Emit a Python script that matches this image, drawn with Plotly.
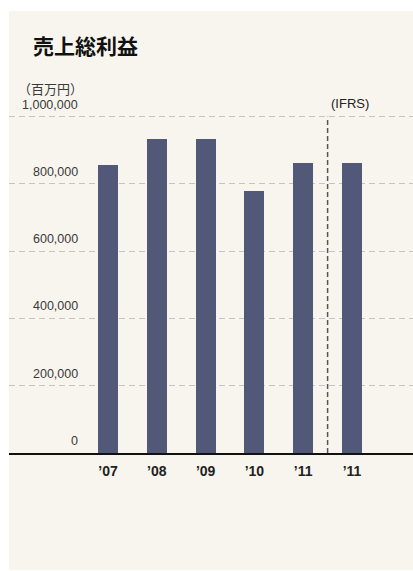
import plotly.graph_objects as go

# Data
categories = ["’07", "’08", "’09", "’10", "’11", "’11"]
gross_profit = [856000, 934000, 934000, 779000, 862000, 862000]
y_ticks = [0, 200000, 400000, 600000, 800000, 1000000]
y_tick_labels = ["0", "200,000", "400,000", "600,000", "800,000", "1,000,000"]
ifrs_boundary = 4.5  # between the two '11 bars

title_text = "売上総利益"
unit_text = "（百万円）"
ifrs_text = "(IFRS)"

BG = "#F8F5EE"
BAR = "#525878"
W, H = 413, 571
L, R, T, B = 9, 0, 100, 118
plot_w = W - L - R
plot_h = H - T - B

x_pos = list(range(len(categories)))

fig = go.Figure()
fig.add_trace(go.Bar(
    x=x_pos, y=gross_profit, width=0.41,
    marker=dict(color=BAR, line=dict(width=0)),
    hoverinfo="skip", showlegend=False,
))

def px_to_paper_y(py):
    return (H - B - py) / plot_h

def px_to_paper_x(px):
    return (px - L) / plot_w

# cream panel
fig.add_shape(type="rect", xref="paper", yref="paper",
              x0=0, x1=1.01, y0=px_to_paper_y(570), y1=px_to_paper_y(11),
              fillcolor=BG, line=dict(width=0), layer="below")

# IFRS dashed divider
fig.add_shape(type="line", xref="x", yref="y",
              x0=ifrs_boundary, x1=ifrs_boundary, y0=0, y1=y_ticks[-1],
              line=dict(color="#555555", width=1.5, dash="5px,3px"), layer="above")

annotations = []
for v, t in zip(y_ticks, y_tick_labels):
    annotations.append(dict(
        xref="paper", yref="y", x=px_to_paper_x(80), y=v,
        xanchor="right", yanchor="middle", yshift=12, showarrow=False,
        text=t, font=dict(family="Liberation Sans, Arial, sans-serif", size=12.5, color="#3a3a3a"),
    ))
annotations.append(dict(
    xref="x", yref="y", x=ifrs_boundary, y=y_ticks[-1], xanchor="left", yanchor="middle",
    xshift=1, yshift=13, showarrow=False, text=ifrs_text,
    font=dict(family="Liberation Sans, Arial, sans-serif", size=13, color="#222222"),
))
annotations.append(dict(
    xref="paper", yref="paper", x=px_to_paper_x(31), y=px_to_paper_y(45),
    xanchor="left", yanchor="middle", showarrow=False, text=title_text,
    font=dict(family="Noto Sans CJK JP", size=21, color="#111111", weight="bold"),
))
annotations.append(dict(
    xref="paper", yref="paper", x=px_to_paper_x(16), y=px_to_paper_y(88),
    xanchor="left", yanchor="middle", showarrow=False, text=unit_text,
    font=dict(family="Noto Sans CJK JP", size=13, color="#3a3a3a"),
))

fig.update_layout(
    width=W, height=H,
    margin=dict(l=L, r=R, t=T, b=B, pad=0),
    paper_bgcolor="white", plot_bgcolor="rgba(0,0,0,0)",
    bargap=0,
    annotations=annotations,
    xaxis=dict(
        range=[-2.029, 6.25], tickvals=x_pos, ticktext=categories,
        showgrid=False, zeroline=False, showline=True, linecolor="#111111", linewidth=1.5,
        ticks="", ticklabelstandoff=4,
        tickfont=dict(family="Liberation Sans, Arial, sans-serif", size=14,
                      color="#222222", weight="bold"),
        fixedrange=True,
    ),
    yaxis=dict(
        range=[0, plot_h / 336.3 * 1e6], tickvals=y_ticks, showticklabels=False,
        showgrid=True, gridcolor="#C4C4C4", gridwidth=1, griddash="6px,4px",
        zeroline=False, showline=False, ticks="", fixedrange=True,
    ),
)

fig.write_html(
    "out.html",
    config={"displayModeBar": False},
    post_script="document.body.style.margin='0';document.body.style.padding='0';document.documentElement.style.overflow='hidden';",
)
